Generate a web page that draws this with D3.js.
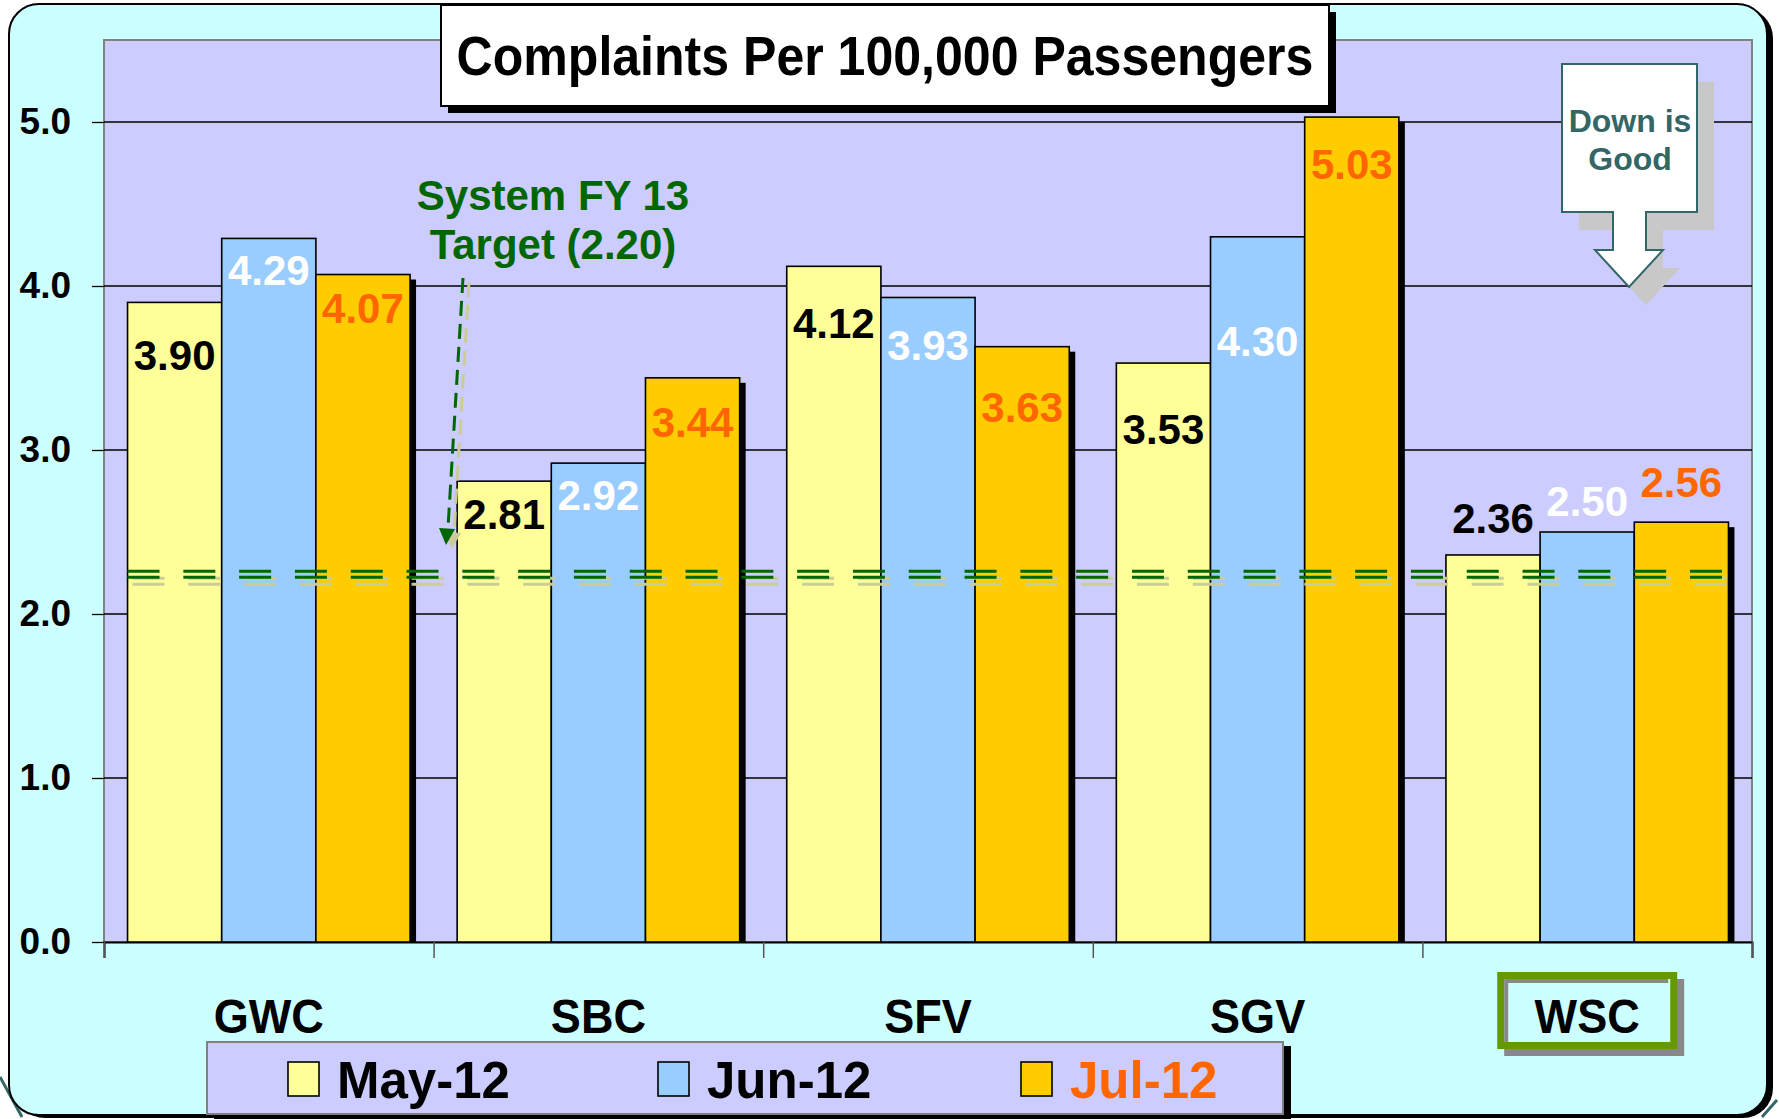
<!DOCTYPE html>
<html>
<head>
<meta charset="utf-8">
<script src="https://cdn.jsdelivr.net/npm/d3@7"></script>
<style>
  body { margin: 0; background: #fff; }
  text { font-family: "Liberation Sans", Arial, sans-serif; font-weight: bold; }
</style>
</head>
<body>
<div class="chart"></div>
<script>
// Data
var categories = ["GWC", "SBC", "SFV", "SGV", "WSC"];
var seriesNames = ["May-12", "Jun-12", "Jul-12"];
var may12 = [3.90, 2.81, 4.12, 3.53, 2.36];
var jun12 = [4.29, 2.92, 3.93, 4.30, 2.50];
var jul12 = [4.07, 3.44, 3.63, 5.03, 2.56];
var yTicks = [0, 1, 2, 3, 4, 5];
var target = 2.20;
var highlighted = "WSC";

// look of the series
var barColors = ["#FFFF99", "#99CCFF", "#FFCC00"];
var labelColors = ["#000000", "#FFFFFF", "#FF6600"];
// labels were placed by hand in the original: offset from bar top (px)
var labelShift = [
  [53, 33, 57, 66, -37],
  [32, 32, 48, 104, -31],
  [33, 44, 60, 47, -40]
];

var svgWidth = 1779;
var svgHeight = 1119;

var margin = { top: 40, right: 27, bottom: 177, left: 104 };
var width = svgWidth - margin.left - margin.right;
var height = svgHeight - margin.top - margin.bottom;

var svg = d3.select(".chart")
  .append("svg")
  .attr("width", svgWidth)
  .attr("height", svgHeight);

// teal edge peeking out at the bottom corners
svg.append("path")
  .attr("d", "M0,1077 L22,1117 M1762,1117 L1777,1100")
  .attr("stroke", "#336666")
  .attr("stroke-width", 3)
  .attr("fill", "none");

// outer rounded panel
svg.append("rect")
  .attr("x", 15).attr("y", 8)
  .attr("width", 1758).attr("height", 1110)
  .attr("rx", 30)
  .attr("fill", "#000");
svg.append("rect")
  .attr("x", 9).attr("y", 4)
  .attr("width", 1758).attr("height", 1111)
  .attr("rx", 30)
  .attr("fill", "#CCFFFF")
  .attr("stroke", "#000")
  .attr("stroke-width", 2);

var chartGroup = svg.append("g")
  .attr("transform", `translate(${margin.left}, ${margin.top})`);

// scales
var x0 = d3.scaleBand().domain(categories).range([0, width]);
var x1 = d3.scaleBand().domain(seriesNames).range([0, x0.bandwidth()]).paddingOuter(0.25);
var y = d3.scaleLinear().domain([0, 5.5]).range([height, 0]);

// plot area
chartGroup.append("rect")
  .attr("width", width).attr("height", height)
  .attr("fill", "#CCCCFF")
  .attr("stroke", "#808080")
  .attr("stroke-width", 2);

// gridlines
chartGroup.selectAll(".grid")
  .data(yTicks.filter(d => d > 0))
  .enter().append("line")
  .attr("x1", 0).attr("x2", width)
  .attr("y1", d => y(d)).attr("y2", d => y(d))
  .attr("stroke", "#000")
  .attr("stroke-width", 1.3);

// y axis
var leftAxis = d3.axisLeft(y).tickValues(yTicks).tickSize(12).tickPadding(21)
  .tickFormat(d3.format(".1f"));
var yAxisG = chartGroup.append("g").call(leftAxis);
yAxisG.select(".domain").remove();
yAxisG.selectAll("line").attr("stroke", "#000").attr("stroke-width", 1.3);
yAxisG.selectAll("text")
  .attr("font-size", 37)
  .attr("font-family", "Liberation Sans, Arial, sans-serif")
  .attr("font-weight", "bold")
  .attr("fill", "#000");

// x axis: ticks at group boundaries
var xb = d3.scaleLinear().domain([0, categories.length]).range([0, width]);
var bottomAxis = d3.axisBottom(xb).tickValues(d3.range(categories.length + 1))
  .tickSize(16).tickFormat("");
var xAxisG = chartGroup.append("g")
  .attr("transform", `translate(0, ${height})`)
  .call(bottomAxis);
xAxisG.select(".domain").attr("stroke", "#000").attr("stroke-width", 2);
xAxisG.selectAll(".tick line").attr("stroke", "#555").attr("stroke-width", 1.5);

// bar data rows
var seriesValues = [may12, jun12, jul12];
var rows = [];
seriesNames.forEach(function(s, si) {
  categories.forEach(function(c, ci) {
    rows.push({ series: s, si: si, cat: c, ci: ci, value: seriesValues[si][ci] });
  });
});

// shadow on the right of each group's last bar
chartGroup.selectAll(".shadow")
  .data(rows.filter(d => d.si === seriesNames.length - 1))
  .enter().append("rect")
  .attr("x", d => x0(d.cat) + x1(d.series) + x1.bandwidth())
  .attr("y", d => y(d.value) + 5)
  .attr("width", 6)
  .attr("height", d => height - y(d.value) - 5)
  .attr("fill", "#000");

chartGroup.selectAll(".bar")
  .data(rows)
  .enter().append("rect")
  .attr("x", d => x0(d.cat) + x1(d.series))
  .attr("y", d => y(d.value))
  .attr("width", x1.bandwidth())
  .attr("height", d => height - y(d.value))
  .attr("fill", d => barColors[d.si])
  .attr("stroke", "#000")
  .attr("stroke-width", 1.6);

// target double dashed line (with pale shadow)
var tStart = x0(categories[0]) + x1(seriesNames[0]);
var tEnd = x0(categories[categories.length - 1]) + x1(seriesNames[2]) + x1.bandwidth();
[[-4, 2, "#CCCC99", 5], [-10, -4, "#006600", 0]].forEach(function(p) {
  [p[0], p[1]].forEach(function(off) {
    chartGroup.append("line")
      .attr("x1", tStart + p[3]).attr("x2", tEnd + p[3])
      .attr("y1", y(target) + off + (p[3] ? 1 : 0))
      .attr("y2", y(target) + off + (p[3] ? 1 : 0))
      .attr("stroke", p[2])
      .attr("stroke-width", 3)
      .attr("stroke-dasharray", "32 23.8");
  });
});

// value labels
chartGroup.selectAll(".val")
  .data(rows)
  .enter().append("text")
  .attr("x", d => x0(d.cat) + x1(d.series) + x1.bandwidth() / 2)
  .attr("y", d => y(d.value) + labelShift[d.si][d.ci] + 15)
  .attr("text-anchor", "middle")
  .attr("font-size", 42)
  .attr("fill", d => labelColors[d.si])
  .text(d => d3.format(".2f")(d.value));

// category labels
chartGroup.selectAll(".cat")
  .data(categories)
  .enter().append("text")
  .attr("transform", d => `translate(${x0(d) + x0.bandwidth() / 2}, ${height + 91}) scale(0.92, 1)`)
  .attr("text-anchor", "middle")
  .attr("font-size", 49)
  .attr("fill", "#000")
  .text(d => d === highlighted ? "" : d);

// highlight box round WSC
var hx = margin.left + x0(highlighted) + x0.bandwidth() / 2;
svg.append("rect")
  .attr("x", hx - 90 + 7).attr("y", 972 + 7)
  .attr("width", 180).attr("height", 77)
  .attr("fill", "#888");
svg.append("rect")
  .attr("x", hx - 86.5).attr("y", 975.5)
  .attr("width", 173).attr("height", 70)
  .attr("fill", "#CCFFFF")
  .attr("stroke", "#669900")
  .attr("stroke-width", 7);
svg.append("path")
  .attr("d", `M${hx - 81},${1042} V${981} H${hx + 81}`)
  .attr("fill", "none")
  .attr("stroke", "#888")
  .attr("stroke-width", 4);
svg.append("text")
  .attr("transform", `translate(${hx}, 1033) scale(0.92, 1)`)
  .attr("text-anchor", "middle")
  .attr("font-size", 49)
  .text(highlighted);

// target annotation
var ann = svg.append("text")
  .attr("text-anchor", "middle")
  .attr("font-size", 42)
  .attr("fill", "#006600");
ann.append("tspan").attr("x", 553).attr("y", 210).text("System FY 13");
ann.append("tspan").attr("x", 553).attr("y", 259).text("Target (2.20)");

function dashedArrow(dx, dy, color) {
  svg.append("line")
    .attr("x1", 463 + dx).attr("y1", 278 + dy)
    .attr("x2", 448 + dx).attr("y2", 528 + dy)
    .attr("stroke", color)
    .attr("stroke-width", 3)
    .attr("stroke-dasharray", "15 8");
  svg.append("path")
    .attr("d", `M${439 + dx},${528 + dy} L${455 + dx},${529 + dy} L${446 + dx},${545 + dy} Z`)
    .attr("fill", color);
}
dashedArrow(6, 4, "#CCCC99");
dashedArrow(0, 0, "#006600");

// title box
svg.append("rect")
  .attr("x", 448).attr("y", 12)
  .attr("width", 888).attr("height", 101)
  .attr("fill", "#000");
svg.append("rect")
  .attr("x", 441).attr("y", 5)
  .attr("width", 888).attr("height", 101)
  .attr("fill", "#fff")
  .attr("stroke", "#000")
  .attr("stroke-width", 2);
svg.append("text")
  .attr("transform", "translate(885, 75) scale(0.91, 1)")
  .attr("text-anchor", "middle")
  .attr("font-size", 55)
  .attr("fill", "#000")
  .text("Complaints Per 100,000 Passengers");

// "Down is Good" arrow callout
function calloutPath(dx, dy) {
  var pts = [[1562, 64], [1697, 64], [1697, 212], [1646, 212], [1646, 250], [1663, 250],
    [1629, 287], [1595, 250], [1613, 250], [1613, 212], [1562, 212]];
  return "M" + pts.map(p => (p[0] + dx) + "," + (p[1] + dy)).join("L") + "Z";
}
svg.append("path").attr("d", calloutPath(17, 18)).attr("fill", "#C8C8C8");
svg.append("path").attr("d", calloutPath(0, 0))
  .attr("fill", "#fff").attr("stroke", "#336666").attr("stroke-width", 2);
var dg = svg.append("text")
  .attr("text-anchor", "middle")
  .attr("font-size", 32)
  .attr("fill", "#336666");
dg.append("tspan").attr("x", 1630).attr("y", 132).text("Down is");
dg.append("tspan").attr("x", 1630).attr("y", 170).text("Good");

// legend
svg.append("rect")
  .attr("x", 214).attr("y", 1046)
  .attr("width", 1077).attr("height", 73)
  .attr("fill", "#000");
svg.append("rect")
  .attr("x", 207).attr("y", 1042)
  .attr("width", 1076).attr("height", 72)
  .attr("fill", "#CCCCFF")
  .attr("stroke", "#808080")
  .attr("stroke-width", 2);
var legendX = [288, 658, 1021];
var legend = svg.selectAll(".legend")
  .data(seriesNames)
  .enter().append("g")
  .attr("transform", (d, i) => `translate(${legendX[i]}, 1062)`);
legend.append("rect")
  .attr("width", 31).attr("height", 34)
  .attr("fill", (d, i) => barColors[i])
  .attr("stroke", "#000")
  .attr("stroke-width", 1.6);
legend.append("text")
  .attr("x", 49).attr("y", 36)
  .attr("font-size", 51)
  .attr("fill", (d, i) => i === 2 ? "#FF6600" : "#000")
  .text(d => d);
</script>
</body>
</html>
